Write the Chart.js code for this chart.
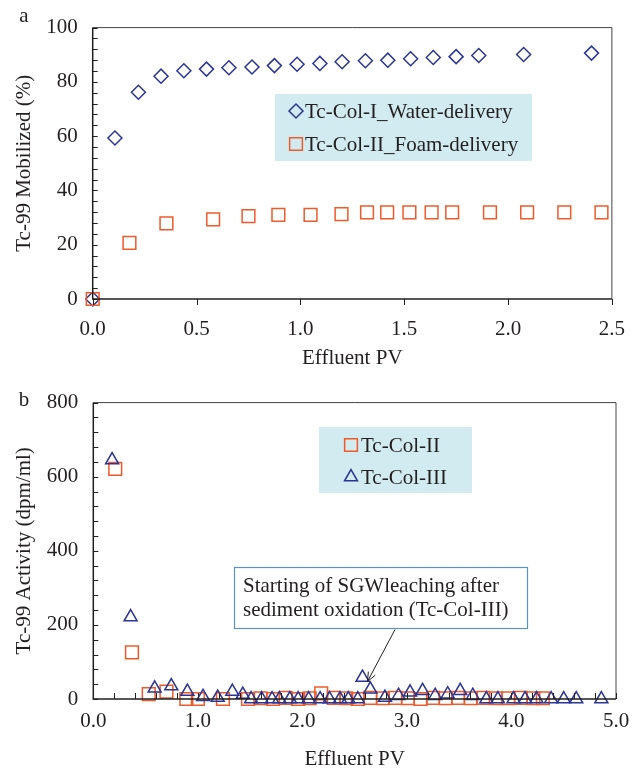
<!DOCTYPE html>
<html><head><meta charset="utf-8">
<script src="https://cdn.jsdelivr.net/npm/chart.js@4.4.1/dist/chart.umd.min.js"></script>
<style>
html,body{margin:0;padding:0;background:#fff;width:643px;height:772px;overflow:hidden}
canvas{position:absolute;left:0}
#ca{top:0}
#cb{top:375px}
</style></head><body>
<canvas id="ca" width="643" height="375"></canvas>
<canvas id="cb" width="643" height="397"></canvas>
<script>
// ---------- Panel a data ----------
const waterPV = [0, 0.107, 0.22, 0.329, 0.439, 0.548, 0.656, 0.767, 0.875, 0.984, 1.094, 1.201, 1.313, 1.421, 1.531, 1.640, 1.750, 1.859, 2.075, 2.402];
const waterMobilized = [0, 59.3, 76.2, 82.1, 84.1, 84.7, 85.2, 85.5, 86.0, 86.5, 86.8, 87.4, 87.8, 88.0, 88.5, 89.0, 89.3, 89.7, 90.1, 90.6];
const foamPV = [0, 0.177, 0.355, 0.58, 0.750, 0.894, 1.049, 1.198, 1.321, 1.418, 1.525, 1.632, 1.731, 1.913, 2.092, 2.271, 2.450];
const foamMobilized = [0, 20.7, 27.9, 29.3, 30.5, 31.0, 31.0, 31.3, 31.9, 31.9, 31.9, 31.9, 31.9, 31.9, 31.9, 31.9, 31.9];
const labelsA = ['Tc-Col-I_Water-delivery', 'Tc-Col-II_Foam-delivery'];

// ---------- Panel b data ----------
const colIIPV = [0.21, 0.37, 0.53, 0.70, 0.89, 1.00, 1.24, 1.48, 1.60, 1.72, 1.84, 1.96, 2.07, 2.18, 2.30, 2.42, 2.53, 2.65, 2.77, 2.89, 3.01, 3.13, 3.25, 3.37, 3.49, 3.61, 3.73, 3.85, 3.97, 4.09, 4.21, 4.30];
const colIIActivity = [621, 126, 13, 20, 0, 0, 0, 0, 2, 0, 3, 0, 2, 15, 3, 2, 0, 3, 2, 3, 2, 0, 3, 2, 3, 2, 3, 2, 2, 3, 2, 2];
const colIIIPV = [0.18, 0.357, 0.587, 0.746, 0.90, 1.05, 1.19, 1.33, 1.43, 1.51, 1.61, 1.71, 1.78, 1.88, 1.96, 2.06, 2.17, 2.26, 2.36, 2.44, 2.53, 2.575, 2.65, 2.79, 2.92, 3.03, 3.15, 3.27, 3.39, 3.51, 3.63, 3.76, 3.87, 4.02, 4.13, 4.24, 4.38, 4.50, 4.62, 4.86];
const colIIIActivity = [645, 221, 29, 35, 20, 6, 4, 20, 12, 0, 0, 0, 0, 0, 0, 0, 0, 0, 0, 0, 0, 58, 26, 4, 9, 18, 22, 9, 13, 22, 9, 0, 0, 0, 0, 0, 0, 0, 0, 0];
const labelsB = ['Tc-Col-II', 'Tc-Col-III'];
const noteLines = ['Starting of SGWleaching after', 'sediment oxidation (Tc-Col-III)'];

const BLUE = '#2b3593';
const ORANGE = '#ef5a2a';
const INK = '#231f20';
const FONT = 'Liberation Serif, Times New Roman, serif';
const FS = 21;

function pts(xs, ys) { return xs.map((x, i) => ({x: x, y: ys[i]})); }

function drawMarker(ctx, style, r, x, y, color) {
  ctx.save();
  ctx.strokeStyle = color; ctx.fillStyle = 'rgba(0,0,0,0)'; ctx.lineWidth = 1.5;
  if (Chart.helpers && Chart.helpers.drawPoint) {
    Chart.helpers.drawPoint(ctx, {pointStyle: style, radius: r, borderWidth: 1.5, rotation: 0}, x, y);
  }
  ctx.restore();
}

function framePlugin(cfg) {
  return {
    id: 'frame_' + cfg.name,
    afterDraw(chart) {
      const ctx = chart.ctx, a = chart.chartArea, xs = chart.scales.x, ys = chart.scales.y;
      ctx.save();
      ctx.strokeStyle = '#444'; ctx.lineWidth = 1;
      ctx.beginPath();
      ctx.moveTo(a.left, a.top); ctx.lineTo(a.right, a.top); ctx.lineTo(a.right, a.bottom);
      ctx.stroke();
      ctx.strokeStyle = INK; ctx.lineWidth = 1.5;
      ctx.beginPath();
      ctx.moveTo(a.left, a.top); ctx.lineTo(a.left, a.bottom); ctx.lineTo(a.right, a.bottom);
      ctx.stroke();
      ctx.lineWidth = 1;
      ctx.beginPath();
      for (let v = ys.min; v <= ys.max + 1e-9; v += cfg.yMinor) {
        const p = Math.round(ys.getPixelForValue(v)) + 0.5;
        ctx.moveTo(a.left, p); ctx.lineTo(a.left + 5, p);
      }
      for (let v = xs.min; v <= xs.max + 1e-9; v += cfg.xMinor) {
        const p = Math.round(xs.getPixelForValue(v)) + 0.5;
        ctx.moveTo(p, a.bottom); ctx.lineTo(p, a.bottom + cfg.xTickDir * 6);
      }
      ctx.stroke();
      ctx.fillStyle = INK; ctx.font = FS + 'px ' + FONT;
      ctx.textAlign = 'center'; ctx.textBaseline = 'middle';
      ctx.fillText(cfg.letter, 24, cfg.letterY);
      const L = cfg.legend;
      ctx.fillStyle = '#d1ebf0';
      ctx.fillRect(L.x, L.y, L.w, L.h);
      ctx.font = FS + 'px ' + FONT; ctx.textAlign = 'left'; ctx.textBaseline = 'middle'; ctx.fillStyle = INK;
      chart.data.datasets.slice().sort((p, q) => p.legendIndex - q.legendIndex).forEach((ds, i) => {
        const yy = L.y + L.rowY[i];
        drawMarker(ctx, ds.pointStyle, ds.legendRadius, L.markerX, yy, ds.pointBorderColor);
        ctx.fillStyle = INK;
        ctx.fillText(ds.label, L.textX, yy + 1);
      });
      if (cfg.after) cfg.after(chart);
      ctx.restore();
    }
  };
}

function baseOptions(o) {
  return {
    responsive: false, animation: false, devicePixelRatio: 1,
    layout: {padding: {top: o.top, right: o.right, left: 0, bottom: 0}},
    plugins: {legend: {display: false}, tooltip: {enabled: false}},
    elements: {point: {borderWidth: 1.5, backgroundColor: 'rgba(0,0,0,0)', hoverRadius: 6}},
    scales: {
      x: {
        type: 'linear', min: o.xMin, max: o.xMax,
        afterFit(s) { s.height = o.xHeight; },
        grid: {display: false, drawTicks: false},
        border: {display: false},
        ticks: {stepSize: o.xStep, padding: o.xPad, color: INK, font: {family: FONT, size: FS},
                callback: v => Number(v).toFixed(1), maxRotation: 0, autoSkip: false},
        title: {display: true, text: 'Effluent PV', color: INK, font: {family: FONT, size: FS}, padding: {top: 0, bottom: o.xTitlePad}}
      },
      y: {
        type: 'linear', min: o.yMin, max: o.yMax,
        afterFit(s) { s.width = o.yWidth; },
        grid: {display: false, drawTicks: false},
        border: {display: false},
        ticks: {stepSize: o.yStep, padding: 15, color: INK, font: {family: FONT, size: FS}},
        title: {display: true, text: o.yTitle, color: INK, font: {family: FONT, size: FS}, padding: {top: 12, bottom: 0}}
      }
    }
  };
}

// ---------- Chart a ----------
new Chart(document.getElementById('ca'), {
  type: 'scatter',
  data: {datasets: [
    {label: labelsA[1], data: pts(foamPV, foamMobilized), pointStyle: 'rect', pointRadius: 9, legendRadius: 9, clip: false,
     pointBorderColor: ORANGE, borderColor: ORANGE, pointBackgroundColor: 'rgba(0,0,0,0)', order: 0, legendIndex: 1},
    {label: labelsA[0], data: pts(waterPV, waterMobilized), pointStyle: 'rectRot', pointRadius: 7, legendRadius: 7, clip: false,
     pointBorderColor: BLUE, borderColor: BLUE, pointBackgroundColor: 'rgba(0,0,0,0)', order: 1, legendIndex: 0}
  ]},
  options: baseOptions({top: 18, right: 28.6, xMin: 0, xMax: 2.5, xStep: 0.5, xHeight: 76, xPad: 18, xTitlePad: 4,
                        yMin: 0, yMax: 100, yStep: 20, yWidth: 92.7, yTitle: 'Tc-99 Mobilized (%)'}),
  plugins: [framePlugin({name: 'a', yMinor: 4, xMinor: 0.5, xTickDir: 1, letter: 'a', letterY: 16,
    legend: {x: 275, y: 94, w: 257, h: 67, rowY: [17, 50], markerX: 296, textX: 305}})]
});

// ---------- Chart b ----------
new Chart(document.getElementById('cb'), {
  type: 'scatter',
  data: {datasets: [
    {label: labelsB[1], data: pts(colIIIPV, colIIIActivity), pointStyle: 'triangle', pointRadius: 7.5, legendRadius: 7.5, clip: false,
     pointBorderColor: BLUE, borderColor: BLUE, pointBackgroundColor: 'rgba(0,0,0,0)', order: 0, legendIndex: 1},
    {label: labelsB[0], data: pts(colIIPV, colIIActivity), pointStyle: 'rect', pointRadius: 9, legendRadius: 9, clip: false,
     pointBorderColor: ORANGE, borderColor: ORANGE, pointBackgroundColor: 'rgba(0,0,0,0)', order: 1, legendIndex: 0}
  ]},
  options: baseOptions({top: 26.7, right: 27, xMin: 0, xMax: 5, xStep: 1, xHeight: 73, xPad: 10, xTitlePad: 0,
                        yMin: 0, yMax: 800, yStep: 200, yWidth: 93.3, yTitle: 'Tc-99 Activity (dpm/ml)'}),
  plugins: [framePlugin({name: 'b', yMinor: 40, xMinor: 0.2, xTickDir: -1, letter: 'b', letterY: 25,
    legend: {x: 319, y: 52, w: 153, h: 66, rowY: [18, 50], markerX: 351, textX: 361},
    after(chart) {
      const ctx = chart.ctx, xs = chart.scales.x, ys = chart.scales.y;
      const bx = 234.5, by = 192.5, bw = 293, bh = 61;
      ctx.fillStyle = '#ffffff'; ctx.fillRect(bx, by, bw, bh);
      ctx.strokeStyle = '#5b93bd'; ctx.lineWidth = 1.2; ctx.strokeRect(bx, by, bw, bh);
      ctx.fillStyle = INK; ctx.font = FS + 'px ' + FONT; ctx.textAlign = 'left'; ctx.textBaseline = 'middle';
      ctx.fillText(noteLines[0], 243, by + 19);
      ctx.fillText(noteLines[1], 243, by + 43);
      const i = colIIIActivity.indexOf(58);
      const tx = xs.getPixelForValue(colIIIPV[i]) + 5, ty = ys.getPixelForValue(colIIIActivity[i]) + 4;
      const sx = 395, sy = by + bh + 1;
      ctx.strokeStyle = INK; ctx.lineWidth = 1;
      ctx.beginPath(); ctx.moveTo(sx, sy); ctx.lineTo(tx, ty); ctx.stroke();
      const ang = Math.atan2(ty - sy, tx - sx), hl = 10;
      ctx.beginPath();
      ctx.moveTo(tx - hl * Math.cos(ang - 0.4), ty - hl * Math.sin(ang - 0.4));
      ctx.lineTo(tx, ty);
      ctx.lineTo(tx - hl * Math.cos(ang + 0.4), ty - hl * Math.sin(ang + 0.4));
      ctx.stroke();
    }})]
});
</script>
</body></html>
